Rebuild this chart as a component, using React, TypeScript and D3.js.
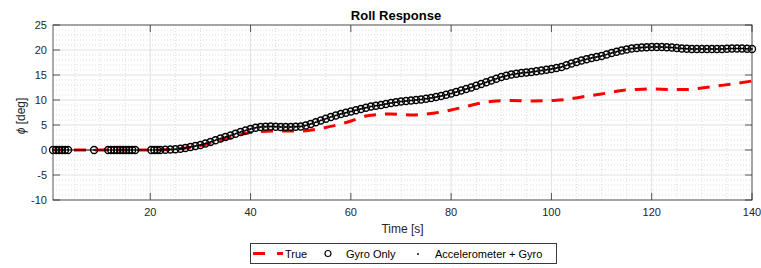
import React from "react";
import * as d3 from "d3";

const W = 761;
const H = 268;
const plot = { left: 53, right: 752, top: 25, bottom: 200 };

// reference ("True") roll angle
const trueTime = [0.6, 22, 24, 27, 30, 33, 36, 39, 42, 46, 50, 54, 58, 60, 63, 68, 72, 76, 80, 83, 86, 89, 92, 96, 100, 103, 106, 110, 114, 117, 120, 124, 127, 130, 133, 136, 140];
const trueRoll = [0, 0, 0.1, 0.4, 0.9, 1.6, 2.5, 3.3, 3.7, 3.8, 3.8, 4.3, 5.2, 5.8, 6.8, 7.2, 7.0, 7.3, 8.0, 8.7, 9.4, 9.8, 9.9, 9.8, 9.9, 10.1, 10.6, 11.2, 11.9, 12.1, 12.2, 12.1, 12.1, 12.4, 12.8, 13.2, 13.8];

// gyro-only estimate: sparse samples while the vehicle is at rest, then one per second
const gyroRestTime = [0.6, 1.2, 1.8, 2.4, 3.0, 3.6, 8.8, 11.6, 12.2, 12.8, 13.4, 14.0, 14.6, 15.2, 15.8, 16.4, 17.0, 20.2, 20.8, 21.4];
const gyroTime = d3.range(22, 141);
const gyroRoll = [
  0, 0.05, 0.1, 0.15, 0.25, 0.4, 0.6, 0.8, 1.0, 1.3, 1.6, 1.95, 2.3, 2.6, 2.9, 3.25, 3.6, 3.9, 4.2,
  4.45, 4.6, 4.65, 4.7, 4.65, 4.6, 4.6, 4.6, 4.65, 4.7, 4.9, 5.2, 5.55, 5.9, 6.25, 6.6, 6.9, 7.2,
  7.45, 7.7, 7.95, 8.2, 8.45, 8.7, 8.85, 9.0, 9.2, 9.4, 9.55, 9.7, 9.8, 9.9, 10.0, 10.1, 10.25, 10.4,
  10.6, 10.8, 11.05, 11.3, 11.6, 11.9, 12.2, 12.5, 12.85, 13.2, 13.55, 13.9, 14.25, 14.6, 14.85,
  15.1, 15.25, 15.4, 15.5, 15.6, 15.75, 15.9, 16.05, 16.2, 16.4, 16.6, 16.95, 17.3, 17.6, 17.9,
  18.15, 18.4, 18.6, 18.8, 19.1, 19.4, 19.65, 19.9, 20.1, 20.3, 20.4, 20.5, 20.55, 20.6, 20.6, 20.6,
  20.55, 20.5, 20.4, 20.3, 20.25, 20.2, 20.2, 20.2, 20.2, 20.2, 20.2, 20.2, 20.25, 20.3, 20.3, 20.3,
  20.25, 20.2,
];

const xTicks = [20, 40, 60, 80, 100, 120, 140];
const yTicks = [-10, -5, 0, 5, 10, 15, 20, 25];
const xMinor = d3.range(5, 140, 5).filter((v) => v % 20 !== 0);
const yMinor = d3.range(-10, 25, 1).filter((v) => v % 5 !== 0);

const FONT = "'Liberation Sans', Arial, Helvetica, sans-serif";
const AX = "#262626";

export default function App() {
  const x = d3.scaleLinear().domain([0.6, 140]).range([plot.left, plot.right]);
  const y = d3.scaleLinear().domain([-10, 25]).range([plot.bottom, plot.top]);

  const truePts: [number, number][] = trueTime.map((t, i) => [t, trueRoll[i]]);
  const gyroPts: [number, number][] = [
    ...gyroRestTime.map((t) => [t, 0] as [number, number]),
    ...gyroTime.map((t, i) => [t, gyroRoll[i]] as [number, number]),
  ];

  const trueLine = d3
    .line<[number, number]>()
    .x((d) => x(d[0]))
    .y((d) => y(d[1]))
    .curve(d3.curveMonotoneX);
  const trackLine = d3
    .line<[number, number]>()
    .x((d) => x(d[0]))
    .y((d) => y(d[1]));

  const tickLen = 7;

  return (
    <svg
      width={W}
      height={H}
      style={{ position: "absolute", left: 0, top: 0, display: "block", fontFamily: FONT }}
    >
      <rect x={0} y={0} width={W} height={H} fill="#fff" />
      <rect x={plot.left} y={plot.top} width={plot.right - plot.left} height={plot.bottom - plot.top} fill="#fff" />

      {/* minor grid */}
      {xMinor.map((v) => (
        <line key={"xm" + v} x1={x(v)} x2={x(v)} y1={plot.top} y2={plot.bottom} stroke="#d4d4d4" strokeWidth={0.8} strokeDasharray="1,2" />
      ))}
      {yMinor.map((v) => (
        <line key={"ym" + v} x1={plot.left} x2={plot.right} y1={y(v)} y2={y(v)} stroke="#d4d4d4" strokeWidth={0.8} strokeDasharray="1,2" />
      ))}
      {/* major grid */}
      {xTicks.map((v) => (
        <line key={"xg" + v} x1={x(v)} x2={x(v)} y1={plot.top} y2={plot.bottom} stroke="#e2e2e2" strokeWidth={1} />
      ))}
      {yTicks.map((v) => (
        <line key={"yg" + v} x1={plot.left} x2={plot.right} y1={y(v)} y2={y(v)} stroke="#e2e2e2" strokeWidth={1.2} />
      ))}

      {/* True */}
      <path d={trueLine(truePts) || ""} fill="none" stroke="#ff0000" strokeWidth={3} strokeDasharray="12,9" />

      {/* Accelerometer + Gyro track */}
      <path d={trackLine(gyroPts) || ""} fill="none" stroke="#000" strokeWidth={1} />

      {/* Gyro only */}
      {gyroPts.map((d, i) => (
        <circle key={"g" + i} cx={x(d[0])} cy={y(d[1])} r={3.5} fill="none" stroke="#000" strokeWidth={1.35} />
      ))}
      {gyroPts.map((d, i) => (
        <circle key={"a" + i} cx={x(d[0])} cy={y(d[1])} r={0.9} fill="#000" />
      ))}

      {/* axes box and ticks */}
      <rect x={plot.left} y={plot.top} width={plot.right - plot.left} height={plot.bottom - plot.top} fill="none" stroke={AX} strokeWidth={1} opacity={0.75} />
      {xTicks.map((v) => (
        <g key={"xt" + v} stroke={AX} opacity={0.75}>
          <line x1={x(v)} x2={x(v)} y1={plot.bottom} y2={plot.bottom - tickLen} />
          <line x1={x(v)} x2={x(v)} y1={plot.top} y2={plot.top + tickLen} />
        </g>
      ))}
      {yTicks.map((v) => (
        <g key={"yt" + v} stroke={AX} opacity={0.75}>
          <line x1={plot.left} x2={plot.left + tickLen} y1={y(v)} y2={y(v)} />
          <line x1={plot.right} x2={plot.right - tickLen} y1={y(v)} y2={y(v)} />
        </g>
      ))}
      {xTicks.map((v) => (
        <text key={"xl" + v} x={x(v)} y={plot.bottom + 16} textAnchor="middle" fontSize={11} fill={AX}>
          {v}
        </text>
      ))}
      {yTicks.map((v) => (
        <text key={"yl" + v} x={plot.left - 6} y={y(v) + 4} textAnchor="end" fontSize={11} fill={AX}>
          {v}
        </text>
      ))}

      <text x={396} y={20} textAnchor="middle" fontSize={13} fontWeight="bold" fill="#000">
        Roll Response
      </text>
      <text x={(plot.left + plot.right) / 2} y={233} textAnchor="middle" fontSize={12} fill={AX}>
        Time [s]
      </text>
      <text transform="translate(25,116) rotate(-90)" textAnchor="middle" fontSize={12} fill={AX}>
        <tspan fontStyle="italic">ϕ</tspan> [deg]
      </text>

      {/* legend */}
      <g>
        <rect x={250.5} y={243.5} width={306} height={20} fill="#fff" stroke={AX} strokeWidth={1} opacity={0.9} />
        <line x1={253} x2={283} y1={253.5} y2={253.5} stroke="#ff0000" strokeWidth={3} strokeDasharray="12,12" />
        <text x={285} y={257.5} fontSize={11} fill="#000">True</text>
        <circle cx={328} cy={253.5} r={3} fill="none" stroke="#000" strokeWidth={1.1} />
        <text x={346} y={257.5} fontSize={11} fill="#000">Gyro Only</text>
        <circle cx={418} cy={254} r={0.9} fill="#000" />
        <text x={435} y={257.5} fontSize={11} fill="#000">Accelerometer + Gyro</text>
      </g>
    </svg>
  );
}
